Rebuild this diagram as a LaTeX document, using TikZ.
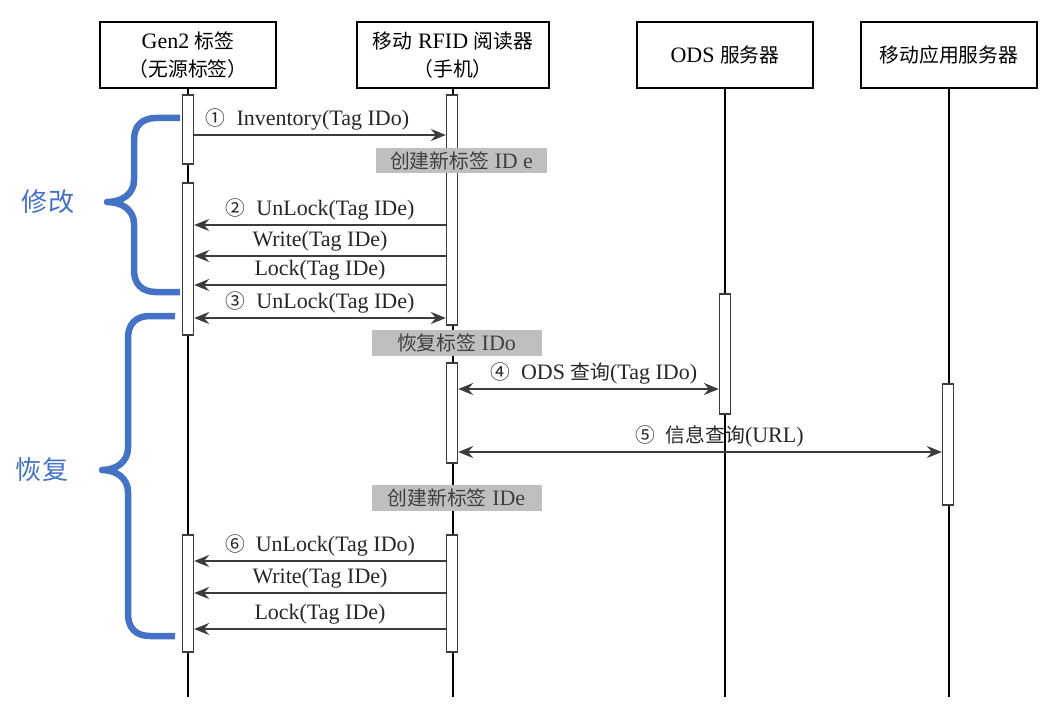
\documentclass[tikz,border=0pt]{standalone}
\usepackage{fontspec}
\setmainfont{Liberation Serif}
\newfontfamily\cjk[Scale=0.9]{Noto Sans CJK SC}
\usepackage{xcolor}
\usetikzlibrary{arrows.meta}
\definecolor{bracecol}{HTML}{4472C4}
\definecolor{notegray}{HTML}{BFBFBF}
\definecolor{msgcol}{HTML}{3C3C3C}

\begin{document}
\begin{tikzpicture}[x=1pt,y=-1pt,
font=\fontsize{22}{28}\selectfont,
>={Stealth[length=15pt,width=12pt,inset=5pt]},
head/.style={draw,line width=2.4pt,minimum width=176pt,minimum height=66pt,align=center,inner sep=0pt},
life/.style={line width=1.5pt},
bar/.style={draw=msgcol,fill=white,line width=1.3pt,minimum width=11pt,inner sep=0pt},
note/.style={fill=notegray,text=black!75,minimum width=170pt,minimum height=26pt,inner sep=0pt},
msg/.style={line width=1.3pt,draw=msgcol},
lbl/.style={above=3pt,inner sep=1pt,text=black!85},
brace/.style={line width=6.5pt,draw=bracecol,line join=round},
side/.style={text=bracecol,font=\fontsize{29}{30}\selectfont\cjk}]
\useasboundingbox (0,0) rectangle (1062,706);

\node[head] (tag) at (188,55) {Gen2 {\cjk 标签}\\{\cjk （无源标签）}};
\node[head,minimum width=192pt] (reader) at (453,55) {{\cjk 移动} RFID {\cjk 阅读器}\\{\cjk （手机）}};
\node[head] (ods) at (725,55) {ODS {\cjk 服务器}};
\node[head] (app) at (949,55) {{\cjk 移动应用服务器}};

\foreach \n in {tag,reader,ods,app}{
\coordinate (\n-end) at (\n |- 0,697);
\draw[life] (\n.south) -- (\n-end);
}

\node[bar,minimum height=69pt] (t1) at (188,129.5) {};
\node[bar,minimum height=152pt] (t2) at (188,259) {};
\node[bar,minimum height=117pt] (t3) at (188,593.5) {};
\node[bar,minimum height=230pt] (r1) at (452,210) {};
\node[bar,minimum height=100pt] (r2) at (452,413) {};
\node[bar,minimum height=117pt] (r3) at (452,593.5) {};
\node[bar,minimum height=120pt] (o1) at (725,354) {};
\node[bar,minimum height=121pt] (a1) at (948,444.5) {};

\node[note,minimum width=171pt,minimum height=25pt] (n1) at (461.5,160.5) {{\cjk 创建新标签} ID e};
\node[note] (n2) at (456.5,343) {{\cjk 恢复标签} IDo};
\node[note] (n3) at (456.5,498) {{\cjk 创建新标签} IDe};

\draw[msg,->] (t1.east |- 0,135) -- node[lbl,pos=.45] {{\cjk ①}\enspace Inventory(Tag IDo)} (r1.west |- 0,135);
\draw[msg,->] (r1.west |- 0,225) -- node[lbl] {{\cjk ②}\enspace UnLock(Tag IDe)} (t2.east |- 0,225);
\draw[msg,->] (r1.west |- 0,256) -- node[lbl] {Write(Tag IDe)} (t2.east |- 0,256);
\draw[msg,->] (r1.west |- 0,285) -- node[lbl] {Lock(Tag IDe)} (t2.east |- 0,285);
\draw[msg,<->] (t2.east |- 0,318) -- node[lbl] {{\cjk ③}\enspace UnLock(Tag IDe)} (r1.west |- 0,318);
\draw[msg,<->] (r2.east |- 0,389) -- node[lbl,pos=.52] {{\cjk ④}\enspace ODS {\cjk 查询}(Tag IDo)} (o1.west |- 0,389);
\draw[msg,<->] (r2.east |- 0,452) -- node[lbl,pos=.54] {{\cjk ⑤}\enspace {\cjk 信息查询}(URL)} (a1.west |- 0,452);
\draw[msg,->] (r3.west |- 0,561) -- node[lbl] {{\cjk ⑥}\enspace UnLock(Tag IDo)} (t3.east |- 0,561);
\draw[msg,->] (r3.west |- 0,593) -- node[lbl] {Write(Tag IDe)} (t3.east |- 0,593);
\draw[msg,->] (r3.west |- 0,629) -- node[lbl] {Lock(Tag IDe)} (t3.east |- 0,629);

\draw[brace] (180,118) -- (156,118) .. controls (142,118) and (134,126) .. (134,140) -- (134,180)
  .. controls (134,194) and (122,202) .. (107,202) .. controls (122,202) and (134,210) .. (134,224)
  -- (134,270) .. controls (134,284) and (142,292) .. (156,292) -- (180,292);
\draw[brace] (175,316) -- (150,316) .. controls (136,316) and (128,324) .. (128,338) -- (128,448)
  .. controls (128,462) and (116,470) .. (102,470) .. controls (116,470) and (128,478) .. (128,492)
  -- (128,614) .. controls (128,628) and (136,636) .. (150,636) -- (175,636);
\node[side] (modify) at (48,202) {修改};
\node[side] (recover) at (42,470) {恢复};
\end{tikzpicture}
\end{document}
